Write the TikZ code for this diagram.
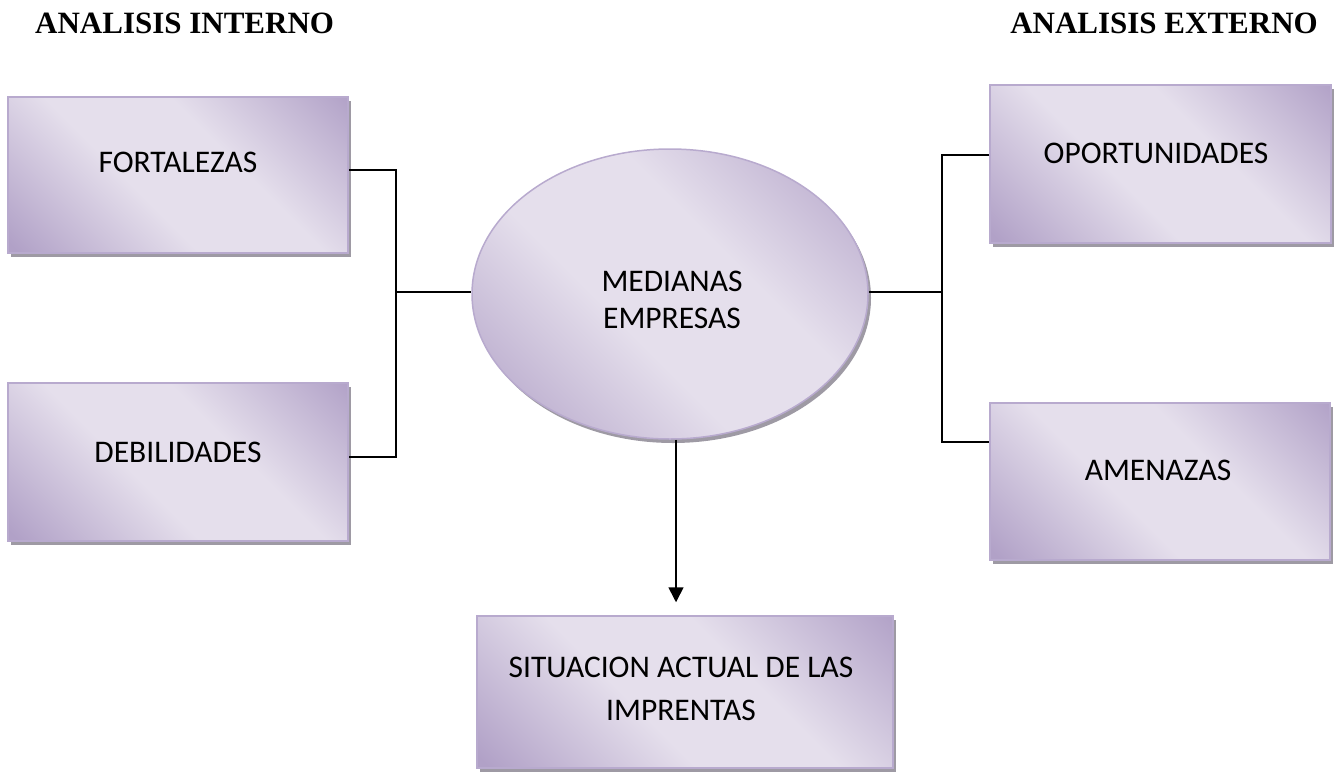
\documentclass[tikz,border=0pt]{standalone}
\usepackage{fontspec}
\setmainfont{Liberation Serif}
\newfontfamily\boxfont{Carlito}
\usetikzlibrary{arrows.meta,calc,shapes.geometric,shadows}

\definecolor{lilacdark}{HTML}{B1A1C7}
\definecolor{lilaclight}{HTML}{E5DFEC}
\definecolor{lilacedge}{HTML}{B8AACE}
\definecolor{shadowgray}{HTML}{9E9AA4}

% diagonal lilac fill: dark corners, light band across the middle
\pgfdeclarehorizontalshading{lilac}{100bp}{color(0bp)=(lilacdark); color(16bp)=(lilacdark); color(42bp)=(lilaclight); color(60bp)=(lilaclight); color(86bp)=(lilacdark); color(100bp)=(lilacdark)}

\tikzset{
  panel/.style={draw=lilacedge, line width=1.5pt, shading=lilac, shading angle=45,
    inner sep=0pt,
    drop shadow={shadow xshift=3pt, shadow yshift=-4pt, fill=shadowgray, opacity=1}},
  boxtext/.style={font=\boxfont\fontsize{31.5}{43}\selectfont, align=center,
    inner sep=0pt, anchor=base},
  heading/.style={font=\fontsize{31}{36}\selectfont\bfseries, inner sep=0pt},
  wire/.style={line width=1.6pt, black},
}

\begin{document}
\begin{tikzpicture}[x=1pt, y=-1pt]
\useasboundingbox (0,0) rectangle (1338,774);

% headings
\node[heading, anchor=base west] (hint) at (35,33.5) {ANALISIS INTERNO};
\node[heading, anchor=base east] (hext) at (1318,33.5) {ANALISIS EXTERNO};

% boxes
\node[panel, rectangle, minimum width=340pt, minimum height=156pt] (fort) at (178,175) {};
\node[panel, rectangle, minimum width=340pt, minimum height=158pt] (deb) at (178,462) {};
\node[panel, rectangle, minimum width=341pt, minimum height=158pt] (opo) at (1160.5,164) {};
\node[panel, rectangle, minimum width=340pt, minimum height=157pt] (ame) at (1160,481.5) {};
\node[panel, rectangle, minimum width=416pt, minimum height=152pt] (sit) at (685,692) {};
\node[panel, ellipse, minimum width=396pt, minimum height=290pt] (med) at (670,294) {};

% box texts (the base anchor sits on the last line)
\node[boxtext] (fortT) at (178,172) {FORTALEZAS};
\node[boxtext] (debT) at (178,462) {DEBILIDADES};
\node[boxtext] (opoT) at (1156,163) {OPORTUNIDADES};
\node[boxtext] (ameT) at (1158,480) {AMENAZAS};
\node[boxtext, font=\boxfont\fontsize{31.5}{37}\selectfont] (medT) at (672,328) {MEDIANAS\\EMPRESAS};
\node[boxtext] (sitT) at (681,720) {SITUACION ACTUAL DE LAS\\IMPRENTAS};

% connectors
\coordinate (jl) at (396,292);
\coordinate (jr) at (942,292);
\draw[wire] (fort.east |- 0,170) -| (jl) |- (deb.east |- 0,457);
\draw[wire] (jl) -- (jl -| med.west);
\draw[wire] (opo.west |- 0,155) -| (jr) |- (ame.west |- 0,442);
\draw[wire] (jr -| med.east) -- (jr);
\draw[wire, -{Triangle[length=15pt,width=15pt]}] (med.south -| 676,0) -- ($(sit.north -| 676,0)+(0,-13)$);
\end{tikzpicture}
\end{document}
